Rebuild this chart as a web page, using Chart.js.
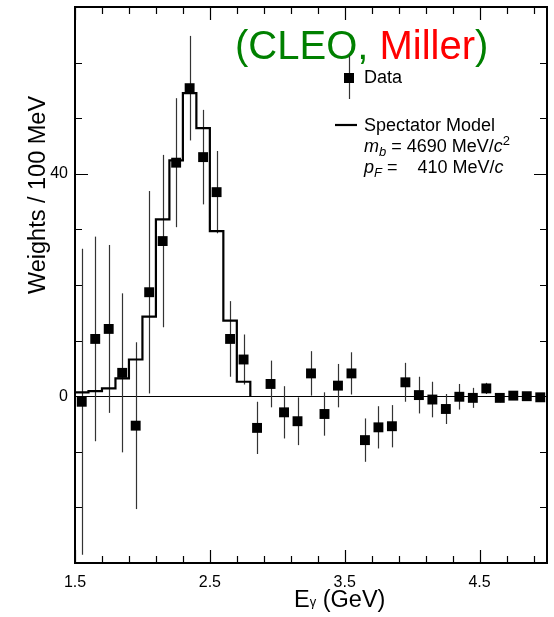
<!DOCTYPE html>
<html><head><meta charset="utf-8">
<script src="https://cdn.jsdelivr.net/npm/chart.js@4/dist/chart.umd.min.js"></script>
<style>html,body{margin:0;padding:0;background:#fff}canvas{display:block}</style>
</head><body>
<canvas id="c" width="554" height="617"></canvas>
<script>
// Photon energy bin centres (GeV)
const energies = [1.55,1.65,1.75,1.85,1.95,2.05,2.15,2.25,2.35,2.45,2.55,2.65,2.75,2.85,2.95,
                  3.05,3.15,3.25,3.35,3.45,3.55,3.65,3.75,3.85,3.95,4.05,4.15,4.25,4.35,4.45,
                  4.55,4.65,4.75,4.85,4.95];
// Data weights per 100 MeV
const weights = [-1.0,10.3,12.1,4.2,-5.3,18.7,27.9,42.0,55.4,43.0,36.7,10.3,6.6,-5.7,2.2,
                 -2.9,-4.5,4.1,-3.2,1.9,4.1,-7.9,-5.6,-5.4,2.5,0.2,-0.6,-2.3,-0.1,-0.3,
                 1.4,-0.3,0.1,0.0,-0.2];
// Error bar half-lengths
const errors = [27.5,18.4,15.1,14.3,15.0,18.2,15.5,11.6,9.4,8.5,7.4,6.8,4.5,4.7,4.2,
                4.7,4.3,4.0,3.9,3.9,3.8,3.9,3.8,3.8,3.5,3.3,3.2,2.7,2.3,1.8,
                1.0,0.8,0.7,0.6,0.6];
// Spectator model histogram (left bin edges and bin contents)
const modelEdges = [1.5,1.6,1.7,1.8,1.9,2.0,2.1,2.2,2.3,2.4,2.5,2.6,2.7,2.8];
const modelValues = [0.7,0.9,1.4,3.2,6.6,14.3,31.8,42.4,54.5,48.2,29.7,13.6,2.6,0];
// Ticks
const xTickValues = [1.5,1.7,1.9,2.1,2.3,2.5,2.7,2.9,3.1,3.3,3.5,3.7,3.9,4.1,4.3,4.5,4.7,4.9];
const xTickLabels = [1.5,2.5,3.5,4.5];
const yTickValues = [-30,-20,-10,0,10,20,30,40,50,60,70];
const yTickLabels = [0,40];

const FONT = "'Liberation Sans', Arial, Helvetica, sans-serif";
Chart.defaults.font.family = FONT;
Chart.defaults.color = '#000';

const deco = {
  id: 'deco',
  beforeDatasetsDraw(chart) {
    const {ctx, chartArea: a, scales: {x, y}} = chart;
    ctx.save();
    ctx.strokeStyle = '#000'; ctx.lineWidth = 1;
    const y0 = Math.round(y.getPixelForValue(0)) + 0.5;
    ctx.beginPath(); ctx.moveTo(a.left, y0); ctx.lineTo(a.right, y0); ctx.stroke();
    ctx.strokeStyle = '#333'; ctx.lineWidth = 1.2;
    energies.forEach((e, i) => {
      const px = Math.round(x.getPixelForValue(e)) + 0.5;
      ctx.beginPath();
      ctx.moveTo(px, y.getPixelForValue(weights[i] - errors[i]));
      ctx.lineTo(px, y.getPixelForValue(weights[i] + errors[i]));
      ctx.stroke();
    });
    ctx.restore();
  },
  afterDraw(chart) {
    const {ctx, chartArea: a, scales: {x, y}} = chart;
    ctx.save();
    // ticks
    ctx.strokeStyle = '#000'; ctx.lineWidth = 1.2;
    xTickValues.forEach(v => {
      const px = Math.round(x.getPixelForValue(v)) + 0.5;
      const len = xTickLabels.includes(v) ? 13 : 7;
      ctx.beginPath();
      ctx.moveTo(px, a.bottom); ctx.lineTo(px, a.bottom - len);
      ctx.moveTo(px, a.top); ctx.lineTo(px, a.top + len);
      ctx.stroke();
    });
    yTickValues.forEach(v => {
      const py = Math.round(y.getPixelForValue(v)) + 0.5;
      const len = yTickLabels.includes(v) ? 13 : 7;
      ctx.beginPath();
      ctx.moveTo(a.left, py); ctx.lineTo(a.left + len, py);
      ctx.moveTo(a.right, py); ctx.lineTo(a.right - len, py);
      ctx.stroke();
    });
    // frame
    ctx.lineWidth = 2;
    ctx.strokeRect(a.left, a.top, a.right - a.left, a.bottom - a.top);

    // axis titles
    ctx.fillStyle = '#000';
    ctx.save();
    ctx.translate(45, 195);
    ctx.rotate(-Math.PI / 2);
    ctx.textAlign = 'center'; ctx.textBaseline = 'alphabetic';
    ctx.font = '23.5px ' + FONT;
    ctx.fillText('Weights / 100 MeV', 0, 0);
    ctx.restore();

    ctx.textAlign = 'left'; ctx.textBaseline = 'alphabetic';
    let cx = 294;
    ctx.font = '23.5px ' + FONT;
    ctx.fillText('E', cx, 607); cx += ctx.measureText('E').width;
    ctx.font = '13px ' + FONT;
    ctx.fillText('γ', cx, 606); cx += ctx.measureText('γ').width;
    ctx.font = '23.5px ' + FONT;
    ctx.fillText(' (GeV)', cx, 607);

    // title
    ctx.font = '40px ' + FONT;
    cx = 235;
    const parts = [['(CLEO,', '#008000'], [' Miller', '#ff0000'], [')', '#008000']];
    parts.forEach(([t, c]) => { ctx.fillStyle = c; ctx.fillText(t, cx, 59); cx += ctx.measureText(t).width; });

    // legend: Data
    ctx.strokeStyle = '#333'; ctx.lineWidth = 1.2;
    ctx.beginPath(); ctx.moveTo(349.5, 55); ctx.lineTo(349.5, 99); ctx.stroke();
    ctx.fillStyle = '#000';
    ctx.fillRect(344, 73, 10, 10);
    ctx.font = '18px ' + FONT;
    ctx.fillText('Data', 364, 83);
    // legend: model
    ctx.strokeStyle = '#000'; ctx.lineWidth = 2.2;
    ctx.beginPath(); ctx.moveTo(335, 125); ctx.lineTo(357, 125); ctx.stroke();
    ctx.fillText('Spectator Model', 364, 131);
    const seq = (items, x0, base) => {
      let px = x0;
      items.forEach(([t, f, dy]) => { ctx.font = f; ctx.fillText(t, px, base + dy); px += ctx.measureText(t).width; });
    };
    seq([['m', 'italic 18px ' + FONT, 0], ['b', 'italic 13px ' + FONT, 4], [' = 4690 MeV/', '18px ' + FONT, 0],
         ['c', 'italic 18px ' + FONT, 0], ['2', '13px ' + FONT, -7]], 364, 152);
    seq([['p', 'italic 18px ' + FONT, 0], ['F', 'italic 13px ' + FONT, 4], [' =    410 MeV/', '18px ' + FONT, 0],
         ['c', 'italic 18px ' + FONT, 0]], 364, 173);
    ctx.restore();
  }
};

new Chart(document.getElementById('c'), {
  type: 'scatter',
  data: {
    datasets: [
      { type: 'line', label: 'Spectator Model',
        data: modelEdges.map((e, i) => ({x: e, y: modelValues[i]})),
        stepped: 'before', borderColor: '#000', borderWidth: 2.2, pointRadius: 0, fill: false, order: 2 },
      { type: 'scatter', label: 'Data',
        data: energies.map((e, i) => ({x: e, y: weights[i]})),
        pointStyle: 'rect', pointRadius: 7, backgroundColor: '#000', borderColor: '#000', borderWidth: 0, order: 1 }
    ]
  },
  options: {
    responsive: false, animation: false,
    layout: {padding: {top: 6, right: 7, left: 0, bottom: 0}},
    plugins: {legend: {display: false}, tooltip: {enabled: false}},
    scales: {
      x: {
        type: 'linear', min: 1.5, max: 5.0,
        afterBuildTicks: s => { s.ticks = xTickValues.map(v => ({value: v})); },
        afterFit: s => { s.height = 54; s.paddingLeft = 0; s.paddingRight = 0; },
        ticks: {callback: v => xTickLabels.includes(v) ? v.toFixed(1) : '', autoSkip: false, maxRotation: 0,
                padding: 10, font: {size: 16}, color: '#000'},
        grid: {display: false, drawTicks: false}, border: {display: false}
      },
      y: {
        type: 'linear', min: -30, max: 70,
        afterBuildTicks: s => { s.ticks = yTickValues.map(v => ({value: v})); },
        afterFit: s => { s.width = 75; s.paddingTop = 0; s.paddingBottom = 0; },
        ticks: {callback: v => yTickLabels.includes(v) ? String(v) : '', padding: 7, font: {size: 16}, color: '#000'},
        grid: {display: false, drawTicks: false}, border: {display: false}
      }
    }
  },
  plugins: [deco]
});
</script>
</body></html>
